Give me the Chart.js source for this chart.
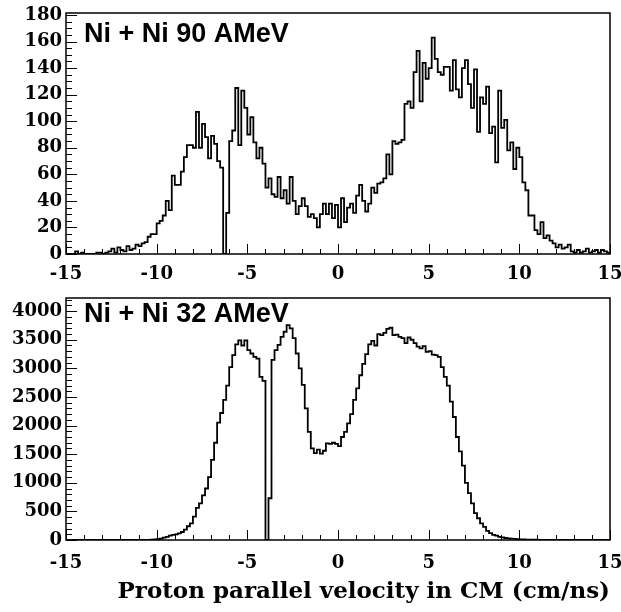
<!DOCTYPE html>
<html>
<head>
<meta charset="utf-8">
<script src="https://cdn.jsdelivr.net/npm/chart.js@4.4.1/dist/chart.umd.min.js"></script>
<style>
  body { margin: 0; background: #fff; }
  canvas { position: absolute; left: 0; }
  #top { top: 0; }
  #bottom { top: 285px; }
</style>
</head>
<body>
<canvas id="top" width="621" height="285"></canvas>
<canvas id="bottom" width="621" height="327"></canvas>
<script>
// histogram binning: 180 bins from -15 to 15 cm/ns
const xMin = -15;
const xMax = 15;
const binWidth = 1 / 6;
const xTicks = [-15, -10, -5, 0, 5, 10, 15];
const yTicks90 = [0, 20, 40, 60, 80, 100, 120, 140, 160, 180];
const yTicks32 = [0, 500, 1000, 1500, 2000, 2500, 3000, 3500, 4000];

// Ni + Ni 90 AMeV
const counts90 = [
  0, 0, 0, 2, 0, 1, 0, 0, 0, 0,
  1, 1, 0, 1, 2, 4, 1, 5, 3, 2,
  6, 3, 4, 7, 6, 8, 9, 13, 15, 15,
  23, 25, 29, 40, 33, 59, 52, 52, 62, 73,
  82, 82, 80, 107, 80, 98, 88, 72, 89, 83,
  70, 65, 0, 31, 85, 93, 125, 82, 123, 110,
  90, 103, 84, 72, 80, 68, 50, 57, 45, 43,
  58, 42, 48, 38, 58, 40, 30, 36, 42, 36,
  28, 30, 27, 20, 30, 38, 30, 38, 27, 37,
  20, 42, 24, 35, 38, 31, 44, 52, 40, 32,
  38, 50, 46, 53, 54, 57, 75, 60, 85, 83,
  84, 86, 113, 115, 110, 137, 153, 115, 144, 132,
  140, 163, 147, 137, 135, 141, 141, 123, 146, 124,
  118, 140, 146, 128, 110, 139, 92, 118, 113, 126,
  91, 96, 69, 123, 95, 101, 78, 84, 64, 80,
  73, 54, 48, 29, 29, 18, 15, 24, 12, 14,
  10, 8, 5, 7, 4, 5, 7, 2, 1, 3,
  1, 2, 4, 1, 2, 3, 1, 3, 2, 1
];

// Ni + Ni 32 AMeV
const counts32 = [
  0, 0, 0, 0, 0, 0, 0, 0, 0, 0,
  0, 0, 0, 0, 0, 0, 0, 0, 0, 0,
  0, 0, 0, 0, 0, 1, 2, 3, 5, 10,
  15, 25, 40, 55, 75, 90, 100, 115, 140, 180,
  240, 290, 410, 560, 640, 780, 900, 1100, 1400, 1700,
  2050, 2220, 2450, 2700, 3020, 3230, 3420, 3490, 3400, 3490,
  3320, 3260, 3200, 3170, 2850, 2780, 0, 730, 3150, 3320,
  3410, 3550, 3640, 3755, 3700, 3530, 3260, 3000, 2710, 2300,
  1890, 1600, 1520, 1580, 1510, 1560, 1690, 1680, 1700, 1680,
  1640, 1800, 1890, 2040, 2200, 2450, 2650, 2880, 3080, 3250,
  3420, 3480, 3400, 3600, 3580, 3620, 3690, 3710, 3580, 3590,
  3550, 3530, 3440, 3540, 3500, 3440, 3380, 3350, 3390, 3290,
  3300, 3240, 3230, 3200, 3020, 2850, 2700, 2420, 2150, 1800,
  1550, 1300, 1000, 820, 640, 470, 380, 290, 230, 160,
  120, 90, 75, 55, 45, 35, 30, 25, 20, 15,
  12, 10, 8, 6, 5, 4, 3, 2, 2, 1,
  1, 1, 0, 0, 1, 0, 0, 0, 0, 0,
  0, 0, 0, 0, 0, 0, 0, 0, 0, 0
];

// left bin edges + closing edge, for a step outline
function histPoints(counts) {
  const pts = counts.map((c, i) => ({ x: xMin + i * binWidth, y: c }));
  pts.push({ x: xMax, y: counts[counts.length - 1] });
  return pts;
}

const tickFont = { family: 'DejaVu Serif', weight: 'bold', size: 18 };

// ROOT-like frame with inward ticks and the panel caption
const frameTicks = {
  id: 'frameTicks',
  afterDatasetsDraw(chart, args, opts) {
    const { ctx, chartArea: a, scales: { x, y } } = chart;
    ctx.save();
    ctx.strokeStyle = '#000';
    ctx.lineWidth = 1;
    ctx.beginPath();
    for (let v = xMin; v <= xMax; v += 1) {
      const px = Math.round(x.getPixelForValue(v)) + 0.5;
      const len = xTicks.includes(v) ? 10 : 5;
      ctx.moveTo(px, a.bottom);
      ctx.lineTo(px, a.bottom - len);
    }
    for (let v = 0; v <= y.max; v += opts.yMinor) {
      const py = Math.round(y.getPixelForValue(v)) + 0.5;
      const len = opts.yTicks.includes(v) ? 11 : 6;
      ctx.moveTo(a.left, py);
      ctx.lineTo(a.left + len, py);
    }
    ctx.stroke();
    ctx.lineWidth = 1.5;
    ctx.strokeRect(a.left, a.top, a.right - a.left, a.bottom - a.top);
    ctx.fillStyle = '#000';
    ctx.font = 'bold 27px "Liberation Sans"';
    ctx.textBaseline = 'alphabetic';
    ctx.fillText(opts.label, a.left + 18, a.top + opts.labelDy);
    ctx.restore();
  }
};

function makeChart(id, counts, yMax, yTicks, yMinor, label, labelDy, xAxisHeight, xPad, xTitle) {
  return new Chart(document.getElementById(id), {
    type: 'line',
    data: {
      datasets: [{
        data: histPoints(counts),
        stepped: true,
        borderColor: '#000',
        borderWidth: 1.8,
        pointRadius: 0,
        fill: false
      }]
    },
    options: {
      responsive: false,
      animation: false,
      devicePixelRatio: 1,
      layout: { padding: { top: 13, right: 11, bottom: 0, left: 0 } },
      plugins: {
        legend: { display: false },
        tooltip: { enabled: false },
        frameTicks: { label: label, labelDy: labelDy, yTicks: yTicks, yMinor: yMinor }
      },
      scales: {
        x: {
          type: 'linear',
          min: xMin,
          max: xMax,
          grid: { display: false, drawTicks: false },
          border: { display: false },
          afterBuildTicks: s => { s.ticks = xTicks.map(v => ({ value: v })); },
          ticks: {
            autoSkip: false,
            maxRotation: 0,
            padding: xPad,
            color: '#000',
            font: tickFont,
            callback: v => String(v)
          },
          title: {
            display: !!xTitle,
            text: xTitle || '',
            align: 'end',
            color: '#000',
            font: { family: 'DejaVu Serif', weight: 'bold', size: 23 },
            padding: { top: 0, bottom: 6 }
          },
          afterFit: s => { s.height = xAxisHeight; s.paddingLeft = 0; s.paddingRight = 0; }
        },
        y: {
          min: 0,
          max: yMax,
          grid: { display: false, drawTicks: false },
          border: { display: false },
          afterBuildTicks: s => { s.ticks = yTicks.map(v => ({ value: v })); },
          ticks: {
            autoSkip: false,
            padding: 4,
            color: '#000',
            font: tickFont,
            callback: v => String(v)
          },
          afterFit: s => { s.width = 66; s.paddingTop = 0; s.paddingBottom = 0; }
        }
      }
    },
    plugins: [frameTicks]
  });
}

makeChart('top', counts90, 181.5, yTicks90, 5, 'Ni + Ni 90 AMeV', 29, 31, 10, null);
makeChart('bottom', counts32, 4230, yTicks32, 100, 'Ni + Ni 32 AMeV', 24, 72, 13,
  'Proton parallel velocity in CM (cm/ns)');
</script>
</body>
</html>
